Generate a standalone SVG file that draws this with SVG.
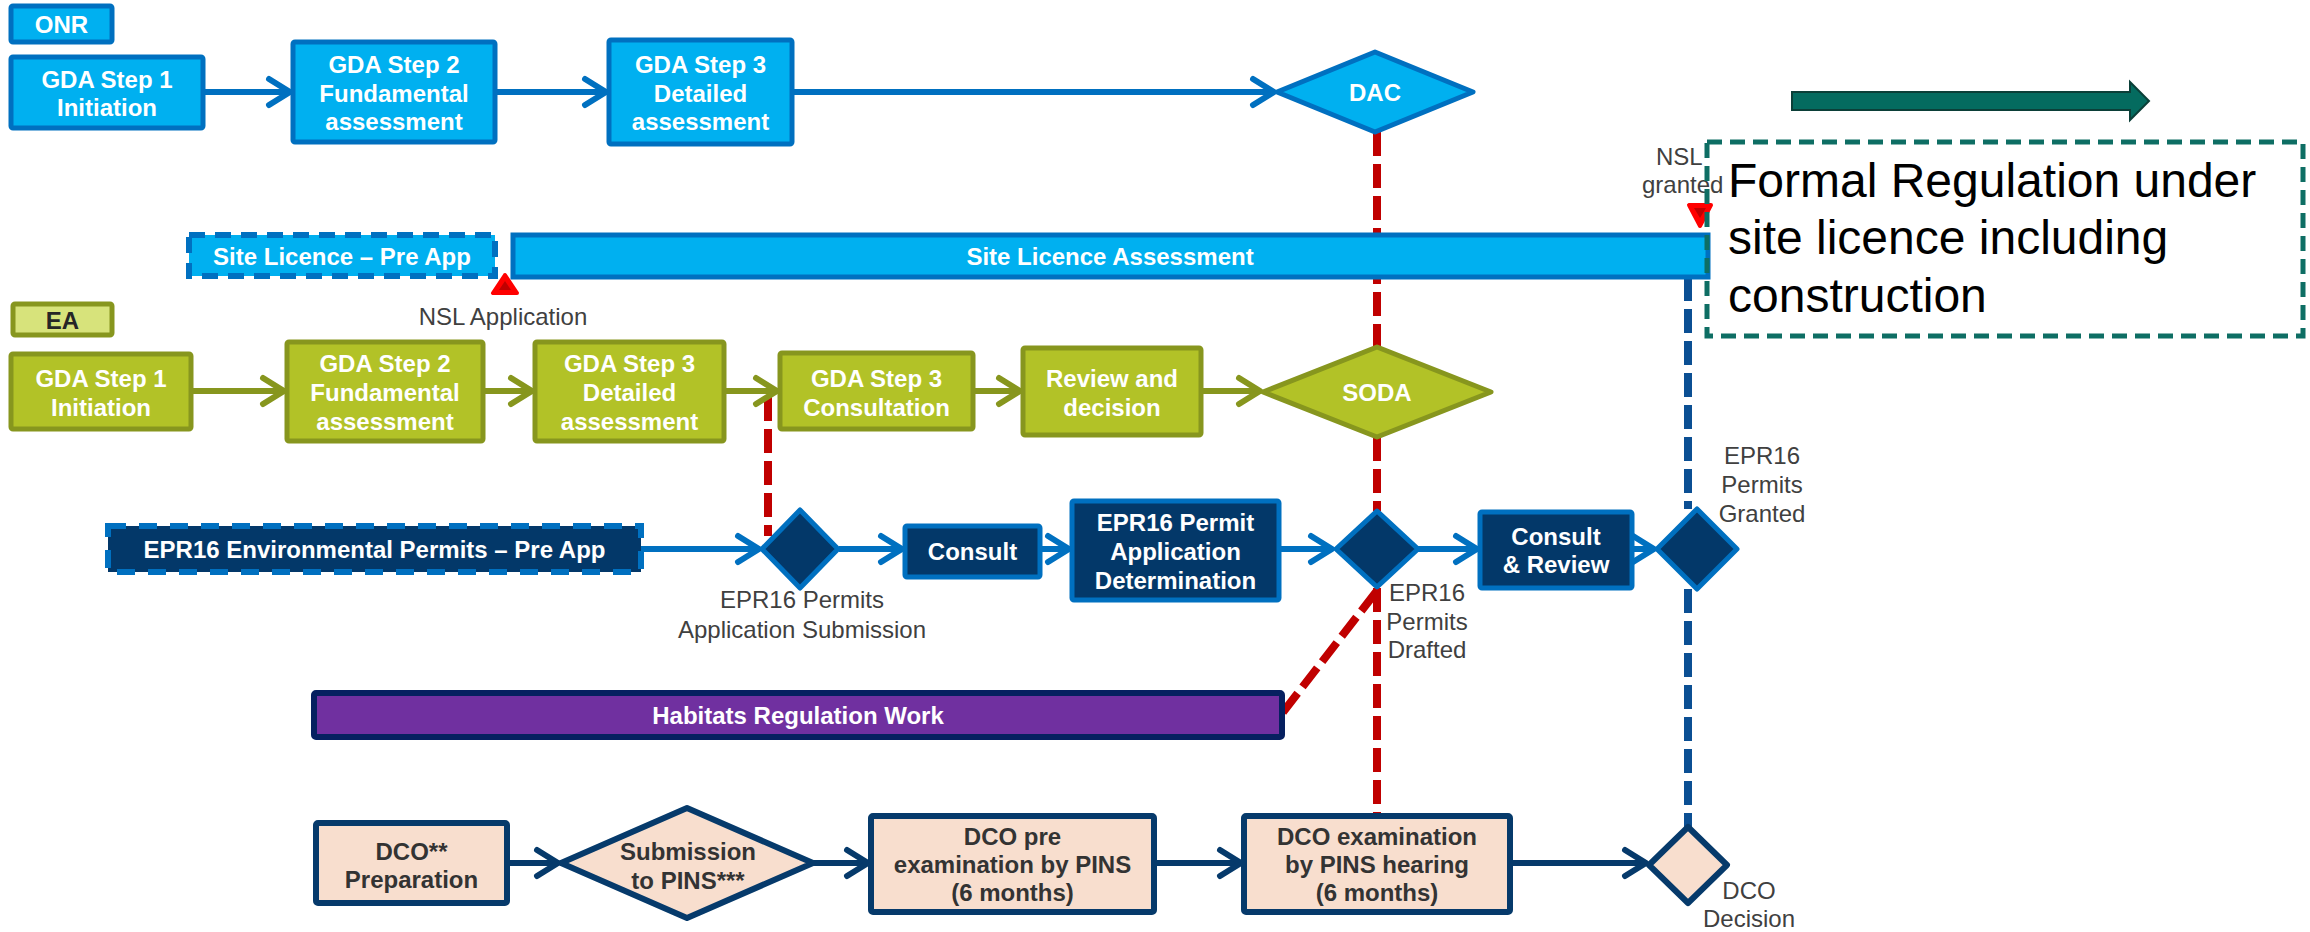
<svg xmlns="http://www.w3.org/2000/svg" width="2310" height="932" viewBox="0 0 2310 932">
<style>
text { font-family: "Liberation Sans", Arial, sans-serif; font-size: 24px; text-anchor: middle; }
.bt { font-weight: bold; fill: #ffffff; }
.dk { font-weight: bold; fill: #333333; }
.gy { fill: #404040; }
.big { font-size: 48px; fill: #000000; text-anchor: start; }
.onr { fill: #00B0F0; stroke: #0070C0; stroke-width: 5; }
.onrd { fill: #00B0F0; stroke: #0070C0; stroke-width: 6; stroke-dasharray: 16 10; }
.ea { fill: #B2C227; stroke: #87961E; stroke-width: 5; }
.ealbl { fill: #D7E37B; stroke: #87961E; stroke-width: 5; }
.epr { fill: #033869; stroke: #0070C0; stroke-width: 5; }
.eprd { fill: #033869; stroke: #0070C0; stroke-width: 6; stroke-dasharray: 18 13; }
.dco { fill: #F8DECE; stroke: #063A6B; stroke-width: 6; }
.hab { fill: #7030A0; stroke: #062060; stroke-width: 6; }
.a-b { stroke: #0070C0; stroke-width: 6; fill: none; marker-end: url(#ah-b); }
.a-g { stroke: #87961E; stroke-width: 6; fill: none; marker-end: url(#ah-g); }
.a-n { stroke: #063A6B; stroke-width: 6; fill: none; marker-end: url(#ah-n); }
.red { stroke: #C00000; stroke-width: 8; fill: none; stroke-dasharray: 24 8; }
.blu { stroke: #0B4F93; stroke-width: 8; fill: none; stroke-dasharray: 24 8; }
.tri { fill: #FF0000; stroke: #FF0000; stroke-width: 4; stroke-linejoin: round; }
</style>
<defs>
<marker id="ah-b" markerUnits="userSpaceOnUse" markerWidth="34" markerHeight="36" viewBox="-30 -18 34 36" refX="0" refY="0" orient="auto"><path d="M-21,-13 L0,0 L-21,13" fill="none" stroke="#0070C0" stroke-width="6" stroke-linecap="round" stroke-linejoin="round"/></marker>
<marker id="ah-g" markerUnits="userSpaceOnUse" markerWidth="34" markerHeight="36" viewBox="-30 -18 34 36" refX="0" refY="0" orient="auto"><path d="M-21,-13 L0,0 L-21,13" fill="none" stroke="#87961E" stroke-width="6" stroke-linecap="round" stroke-linejoin="round"/></marker>
<marker id="ah-n" markerUnits="userSpaceOnUse" markerWidth="34" markerHeight="36" viewBox="-30 -18 34 36" refX="0" refY="0" orient="auto"><path d="M-21,-13 L0,0 L-21,13" fill="none" stroke="#063A6B" stroke-width="6" stroke-linecap="round" stroke-linejoin="round"/></marker>
</defs>
<rect width="2310" height="932" fill="#ffffff"/>

<g id="connectors">
<line class="red" x1="1377" y1="132" x2="1377" y2="347"/>
<line class="red" x1="1377" y1="437" x2="1377" y2="511"/>
<line class="red" x1="1377" y1="588" x2="1377" y2="816"/>
<line class="red" x1="768" y1="397" x2="768" y2="536"/>
<line class="red" x1="1376" y1="592" x2="1280" y2="716"/>
<line class="blu" x1="1688" y1="277" x2="1688" y2="509"/>
<line class="blu" x1="1688" y1="589" x2="1688" y2="828"/>

<line class="a-b" x1="203" y1="92" x2="290" y2="92"/>
<line class="a-b" x1="495" y1="92" x2="606" y2="92"/>
<line class="a-b" x1="792" y1="92" x2="1274" y2="92"/>

<line class="a-g" x1="191" y1="391" x2="284" y2="391"/>
<line class="a-g" x1="483" y1="391" x2="532" y2="391"/>
<line class="a-g" x1="724" y1="391" x2="777" y2="391"/>
<line class="a-g" x1="973" y1="391" x2="1020" y2="391"/>
<line class="a-g" x1="1201" y1="391" x2="1260" y2="391"/>

<line class="a-b" x1="641" y1="549" x2="759" y2="549"/>
<line class="a-b" x1="839" y1="549" x2="902" y2="549"/>
<line class="a-b" x1="1040" y1="549" x2="1069" y2="549"/>
<line class="a-b" x1="1279" y1="549" x2="1332" y2="549"/>
<line class="a-b" x1="1418" y1="549" x2="1477" y2="549"/>
<line class="a-b" x1="1632" y1="549" x2="1654" y2="549"/>

<line class="a-n" x1="507" y1="863" x2="558" y2="863"/>
<line class="a-n" x1="813" y1="863" x2="868" y2="863"/>
<line class="a-n" x1="1154" y1="863" x2="1241" y2="863"/>
<line class="a-n" x1="1510" y1="863" x2="1646" y2="863"/>
</g>

<g id="onr-label"><rect class="onr" x="11" y="6" width="101" height="36" rx="2"/><text class="bt" x="61.5" y="32.5">ONR</text></g>
<g id="onr-step1"><rect class="onr" x="11" y="57" width="192" height="71" rx="2"/><text class="bt" x="107" y="87.5">GDA Step 1</text><text class="bt" x="107" y="115.5">Initiation</text></g>
<g id="onr-step2"><rect class="onr" x="293" y="42" width="202" height="100" rx="2"/><text class="bt" x="394" y="73">GDA Step 2</text><text class="bt" x="394" y="101.5">Fundamental</text><text class="bt" x="394" y="130">assessment</text></g>
<g id="onr-step3"><rect class="onr" x="609" y="40" width="183" height="104" rx="2"/><text class="bt" x="700.5" y="73">GDA Step 3</text><text class="bt" x="700.5" y="101.5">Detailed</text><text class="bt" x="700.5" y="130">assessment</text></g>
<g id="dac"><polygon class="onr" points="1277,92 1375,52 1473,92 1375,132" stroke-linejoin="round"/><text class="bt" x="1375" y="100.5">DAC</text></g>

<g id="site-licence-preapp"><rect class="onrd" x="189" y="235" width="306" height="41"/><text class="bt" x="342" y="264.5">Site Licence – Pre App</text></g>
<g id="site-licence-assessment"><rect class="onr" x="513" y="235" width="1195" height="42"/><text class="bt" x="1110" y="264.5">Site Licence Assessment</text></g>
<g id="nsl-application"><polygon class="tri" points="493,293 517,293 505,275"/><polygon points="499,290 511,290 505,281" fill="#C00000"/><text class="gy" x="503" y="325">NSL Application</text></g>
<g id="nsl-granted"><polygon class="tri" points="1689,205 1711,205 1700,226"/><polygon points="1694,208 1706,208 1700,218" fill="#C00000"/><text class="gy" x="1656" y="165" style="text-anchor:start">NSL</text><text class="gy" x="1642" y="193" style="text-anchor:start">granted</text></g>

<g id="formal-regulation">
<polygon points="1792,92 2130,92 2130,82 2149,101 2130,120 2130,110 1792,110" fill="#046B5F" stroke="#0B3F38" stroke-width="2"/>
<rect x="1707" y="142" width="596" height="194" fill="none" stroke="#0E6E64" stroke-width="5" stroke-dasharray="15 8"/>
<text class="big" x="1728" y="197">Formal Regulation under</text>
<text class="big" x="1728" y="254">site licence including</text>
<text class="big" x="1728" y="312">construction</text>
</g>

<g id="ea-label"><rect class="ealbl" x="13" y="304" width="99" height="31" rx="2"/><text x="62.5" y="328.5" style="font-weight:bold;fill:#262626">EA</text></g>
<g id="ea-step1"><rect class="ea" x="11" y="354" width="180" height="75" rx="2"/><text class="bt" x="101" y="387">GDA Step 1</text><text class="bt" x="101" y="416">Initiation</text></g>
<g id="ea-step2"><rect class="ea" x="287" y="342" width="196" height="99" rx="2"/><text class="bt" x="385" y="372">GDA Step 2</text><text class="bt" x="385" y="401">Fundamental</text><text class="bt" x="385" y="430">assessment</text></g>
<g id="ea-step3"><rect class="ea" x="535" y="342" width="189" height="99" rx="2"/><text class="bt" x="629.5" y="372">GDA Step 3</text><text class="bt" x="629.5" y="401">Detailed</text><text class="bt" x="629.5" y="430">assessment</text></g>
<g id="ea-consultation"><rect class="ea" x="780" y="353" width="193" height="76" rx="2"/><text class="bt" x="876.5" y="387">GDA Step 3</text><text class="bt" x="876.5" y="416">Consultation</text></g>
<g id="ea-review"><rect class="ea" x="1023" y="348" width="178" height="87" rx="2"/><text class="bt" x="1112" y="387">Review and</text><text class="bt" x="1112" y="416">decision</text></g>
<g id="soda"><polygon class="ea" points="1263,392 1377,347 1491,392 1377,437" stroke-linejoin="round"/><text class="bt" x="1377" y="400.5">SODA</text></g>

<g id="epr-preapp"><rect class="eprd" x="108" y="526" width="533" height="46"/><text class="bt" x="374.5" y="557.5">EPR16 Environmental Permits – Pre App</text></g>
<g id="epr-submission"><polygon class="epr" points="762,549 800,510 838,549 800,588" stroke-linejoin="round"/><text class="gy" x="802" y="608">EPR16 Permits</text><text class="gy" x="802" y="638">Application Submission</text></g>
<g id="epr-consult"><rect class="epr" x="905" y="526" width="135" height="51" rx="2"/><text class="bt" x="972.5" y="560">Consult</text></g>
<g id="epr-determination"><rect class="epr" x="1072" y="501" width="207" height="99" rx="2"/><text class="bt" x="1175.5" y="531">EPR16 Permit</text><text class="bt" x="1175.5" y="560">Application</text><text class="bt" x="1175.5" y="589">Determination</text></g>
<g id="epr-drafted"><polygon class="epr" points="1336,549 1377,511 1418,549 1377,587" stroke-linejoin="round"/><text class="gy" x="1427" y="601">EPR16</text><text class="gy" x="1427" y="630">Permits</text><text class="gy" x="1427" y="658">Drafted</text></g>
<g id="epr-consult-review"><rect class="epr" x="1480" y="512" width="152" height="76" rx="2"/><text class="bt" x="1556" y="545">Consult</text><text class="bt" x="1556" y="573">&amp; Review</text></g>
<g id="epr-granted"><polygon class="epr" points="1657,549 1697,509 1737,549 1697,589" stroke-linejoin="round"/><text class="gy" x="1762" y="464">EPR16</text><text class="gy" x="1762" y="493">Permits</text><text class="gy" x="1762" y="522">Granted</text></g>

<g id="habitats"><rect class="hab" x="314" y="693" width="968" height="44" rx="2"/><text class="bt" x="798" y="724">Habitats Regulation Work</text></g>

<g id="dco-prep"><rect class="dco" x="316" y="823" width="191" height="80" rx="2"/><text class="dk" x="411.5" y="860">DCO**</text><text class="dk" x="411.5" y="888">Preparation</text></g>
<g id="dco-submission"><polygon class="dco" points="561,863 687,808 813,863 687,918" stroke-linejoin="round"/><text class="dk" x="688" y="860">Submission</text><text class="dk" x="688" y="889">to PINS***</text></g>
<g id="dco-preexam"><rect class="dco" x="871" y="816" width="283" height="96" rx="2"/><text class="dk" x="1012.5" y="845">DCO pre</text><text class="dk" x="1012.5" y="873">examination by PINS</text><text class="dk" x="1012.5" y="901">(6 months)</text></g>
<g id="dco-exam"><rect class="dco" x="1244" y="816" width="266" height="96" rx="2"/><text class="dk" x="1377" y="845">DCO examination</text><text class="dk" x="1377" y="873">by PINS hearing</text><text class="dk" x="1377" y="901">(6 months)</text></g>
<g id="dco-decision"><polygon class="dco" points="1649,865 1688,827 1727,865 1688,903" stroke-linejoin="round"/><text class="gy" x="1749" y="899">DCO</text><text class="gy" x="1749" y="927">Decision</text></g>
</svg>
